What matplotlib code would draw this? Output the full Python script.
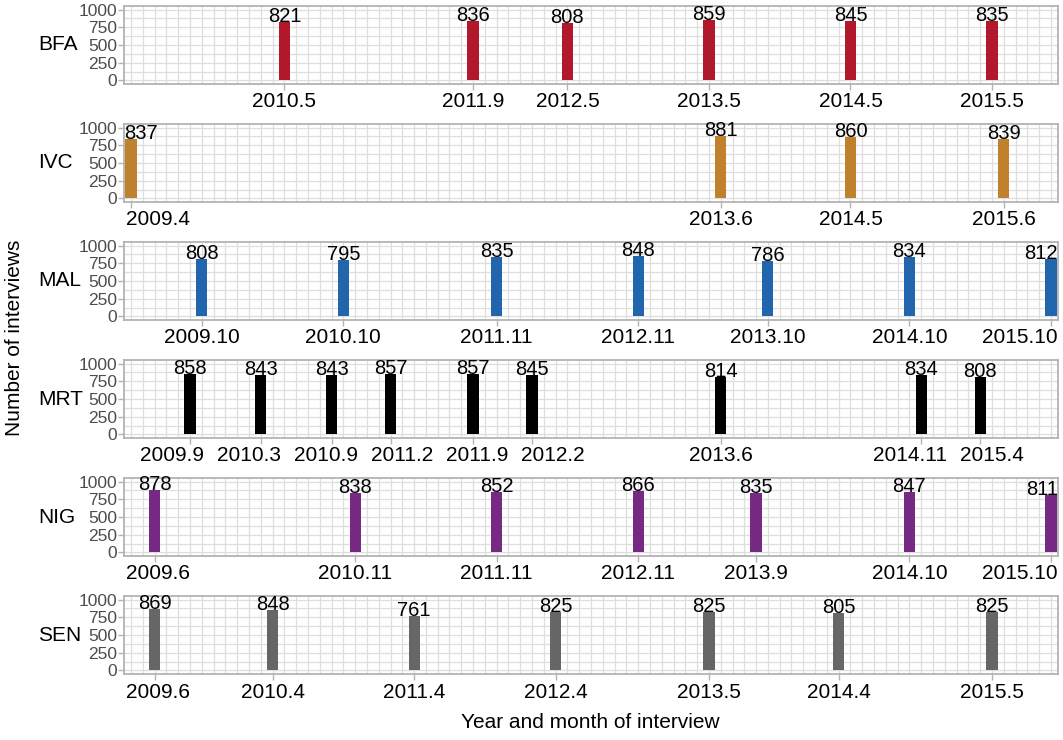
import matplotlib
matplotlib.use("Agg")
import matplotlib.pyplot as plt
from matplotlib.ticker import FixedLocator
from matplotlib.transforms import ScaledTranslation

plt.rcParams['font.family'] = ['Liberation Sans', 'DejaVu Sans']

# survey rounds per country: "year.month" label and number of interviews
countries = ["BFA", "IVC", "MAL", "MRT", "NIG", "SEN"]
colors = ["#B2182B", "#BF812D", "#2166AC", "#000000", "#762A83", "#666666"]

bfa_dates = ["2010.5", "2011.9", "2012.5", "2013.5", "2014.5", "2015.5"]
bfa_n = [821, 836, 808, 859, 845, 835]

ivc_dates = ["2009.4", "2013.6", "2014.5", "2015.6"]
ivc_n = [837, 881, 860, 839]

mal_dates = ["2009.10", "2010.10", "2011.11", "2012.11", "2013.10", "2014.10", "2015.10"]
mal_n = [808, 795, 835, 848, 786, 834, 812]

mrt_dates = ["2009.9", "2010.3", "2010.9", "2011.2", "2011.9", "2012.2", "2013.6", "2014.11", "2015.4"]
mrt_n = [858, 843, 843, 857, 857, 845, 814, 834, 808]

nig_dates = ["2009.6", "2010.11", "2011.11", "2012.11", "2013.9", "2014.10", "2015.10"]
nig_n = [878, 838, 852, 866, 835, 847, 811]

sen_dates = ["2009.6", "2010.4", "2011.4", "2012.4", "2013.5", "2014.4", "2015.5"]
sen_n = [869, 848, 761, 825, 825, 805, 825]

all_dates = [bfa_dates, ivc_dates, mal_dates, mrt_dates, nig_dates, sen_dates]
all_n = [bfa_n, ivc_n, mal_n, mrt_n, nig_n, sen_n]

# x axis is every month from 2009.4 to 2015.10
first_year, first_month = 2009, 4
n_months = 79


def month_index(label):
    year, month = label.split(".")
    return (int(year) - first_year) * 12 + int(month) - first_month


def spread(centers, widths, lo, hi, gap):
    # push overlapping labels apart (in pixels), keep them inside [lo, hi]
    groups = [[i] for i in range(len(centers))]
    pos = list(centers)

    def place(g):
        need = [0.0]
        for a, b in zip(g[:-1], g[1:]):
            need.append(need[-1] + (widths[a] + widths[b]) / 2 + gap)
        mid = sum(centers[i] for i in g) / len(g) - sum(need) / len(g)
        start = mid
        start = max(start, lo + widths[g[0]] / 2)
        start = min(start, hi - widths[g[-1]] / 2 - need[-1])
        for i, off in zip(g, need):
            pos[i] = start + off

    changed = True
    while changed:
        changed = False
        for g in groups:
            place(g)
        for k in range(len(groups) - 1):
            a, b = groups[k][-1], groups[k + 1][0]
            if pos[b] - pos[a] < (widths[a] + widths[b]) / 2 + gap - 0.01:
                groups[k] = groups[k] + groups[k + 1]
                del groups[k + 1]
                changed = True
                break
    for g in groups:
        place(g)
    return pos


fig, axes = plt.subplots(6, 1, figsize=(10.63, 7.40), dpi=100)
fig.subplots_adjust(left=124/1063, right=1058/1063, top=1 - 6/740,
                    bottom=1 - 674/740, hspace=0.513)

for ax, name, col, dates, n in zip(axes, countries, colors, all_dates, all_n):
    x = [month_index(d) for d in dates]
    ax.bar(x, n, width=0.95, color=col, zorder=3)

    ax.set_xlim(-0.6, n_months - 1 + 0.6)
    ax.set_ylim(-50, 1050)
    ax.set_xticks(x)
    ax.set_xticklabels([])
    ax.xaxis.set_minor_locator(FixedLocator(range(n_months)))
    ax.set_yticks([0, 250, 500, 750, 1000])
    ax.yaxis.set_minor_locator(FixedLocator([125, 375, 625, 875]))

    ax.grid(which="both", color="#DEDEDE", linewidth=0.9, zorder=0)
    ax.set_axisbelow(True)
    for s in ax.spines.values():
        s.set_color("#B3B3B3")
        s.set_linewidth(1.3)
    ax.tick_params(axis="x", which="major", color="#B3B3B3", length=4, width=1)
    ax.tick_params(axis="y", which="major", labelsize=12.5, labelcolor="#4D4D4D",
                   color="#B3B3B3", length=4, width=1, pad=1)
    ax.tick_params(which="minor", length=0)

    # country label on the left of each panel
    ax.text(38/1063, 0.5, name, fontsize=15, ha="left", va="center", color="black",
            transform=matplotlib.transforms.blended_transform_factory(fig.transFigure, ax.transAxes))

fig.canvas.draw()
renderer = fig.canvas.get_renderer()

for ax, dates, n in zip(axes, all_dates, all_n):
    x = [month_index(d) for d in dates]
    box = ax.get_window_extent(renderer)
    px = [ax.transData.transform((xi, 0))[0] for xi in x]

    # month labels under the panel, pushed apart where they would overlap
    below = ax.get_xaxis_transform() + ScaledTranslation(0, -0.085, fig.dpi_scale_trans)
    labels = [ax.text(xi, 0, d, fontsize=15, ha="center", va="top", color="black",
                      transform=below, clip_on=False) for xi, d in zip(x, dates)]
    widths = [t.get_window_extent(renderer).width for t in labels]
    new_px = spread(px, widths, box.x0 + 2, box.x1, 13)
    for t, p in zip(labels, new_px):
        t.set_x(ax.transData.inverted().transform((p, 0))[0])

    # counts above the bars, kept inside the panel width
    vals = [ax.text(xi, ni, str(ni), fontsize=14.5, ha="center", va="baseline",
                    color="black", clip_on=False, zorder=4) for xi, ni in zip(x, n)]
    for t, p in zip(vals, px):
        w = t.get_window_extent(renderer).width
        q = min(max(p, box.x0 + w / 2), box.x1 - w / 2)
        t.set_x(ax.transData.inverted().transform((q, 0))[0])

fig.text(590/1063, 1 - 722/740, "Year and month of interview", ha="center",
         va="center", fontsize=15)
fig.text(15/1063, 1 - 338/740, "Number of interviews", ha="center", va="center",
         rotation=90, fontsize=15)

plt.savefig("out.png", dpi=100)
